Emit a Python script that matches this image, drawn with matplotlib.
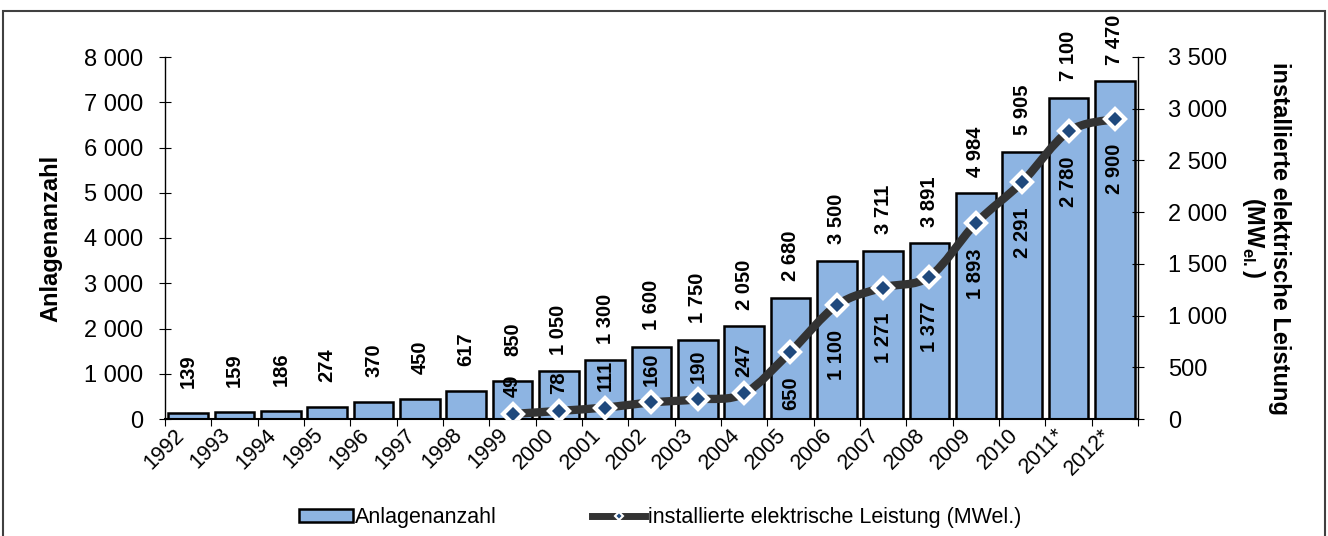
import matplotlib
matplotlib.use("Agg")
import matplotlib.pyplot as plt
from matplotlib.path import Path
from matplotlib.patches import PathPatch, Rectangle, Patch
from matplotlib.lines import Line2D

plt.rcParams['font.family'] = ['Liberation Sans', 'DejaVu Sans']
plt.rcParams['mathtext.fontset'] = 'custom'
plt.rcParams['mathtext.rm'] = 'Liberation Sans'
plt.rcParams['mathtext.bf'] = 'Liberation Sans:bold'

# data
years = ["1992", "1993", "1994", "1995", "1996", "1997", "1998", "1999", "2000",
         "2001", "2002", "2003", "2004", "2005", "2006", "2007", "2008", "2009",
         "2010", "2011*", "2012*"]
anlagen = [139, 159, 186, 274, 370, 450, 617, 850, 1050, 1300, 1600, 1750,
           2050, 2680, 3500, 3711, 3891, 4984, 5905, 7100, 7470]
leistung_years = ["1999", "2000", "2001", "2002", "2003", "2004", "2005", "2006",
                  "2007", "2008", "2009", "2010", "2011*", "2012*"]
leistung = [49, 78, 111, 160, 190, 247, 650, 1100, 1271, 1377, 1893, 2291, 2780, 2900]

bar_color = "#8DB4E2"
line_color = "#333333"
marker_color = "#1F497D"


def fmt(v):
    return f"{v:,}".replace(",", " ")


W, H = 1328, 536
fig = plt.figure(figsize=(W / 100, H / 100), dpi=100)
ax = fig.add_axes([165 / W, 1 - 419 / H, (1138 - 165) / W, (419 - 57) / H])
ax2 = ax.twinx()

x = list(range(len(years)))
ax.bar(x, anlagen, width=0.86, color=bar_color, edgecolor="black", linewidth=1.8, zorder=2)
ax.set_xlim(-0.5, len(years) - 0.5)
ax.set_ylim(0, 8000)
ax.set_yticks(range(0, 8001, 1000))
ax.set_yticklabels([fmt(v) for v in range(0, 8001, 1000)])

for i, v in zip(x, anlagen):
    ax.annotate(fmt(v), (i, v), xytext=(0, 30), textcoords="offset points",
                rotation=90, ha="center", va="center", fontsize=14.5, fontweight="bold")

ax.set_xticks(x)
ax.set_xticklabels(years, rotation=45, ha="right", fontsize=15.5)
ax.set_xticks([i - 0.5 for i in range(len(years) + 1)], minor=True)
ax.tick_params(axis="x", which="major", length=0, pad=4)
ax.tick_params(axis="x", which="minor", length=5, direction="out", width=0.8)
ax.tick_params(axis="y", direction="inout", length=9, labelsize=17, pad=11, width=0.8)

for s in ["top", "right"]:
    ax.spines[s].set_visible(False)
ax.spines["left"].set_linewidth(1)
ax.spines["bottom"].set_linewidth(1.5)

ax.set_ylabel("Anlagenanzahl", fontsize=17, fontweight="bold", labelpad=16)

# line on secondary axis (smoothed drawing through the points)
lx = [years.index(y) for y in leistung_years]
pts = list(zip(lx, leistung))
verts = [pts[0]]
codes = [Path.MOVETO]
for k in range(len(pts) - 1):
    p0 = pts[k - 1] if k > 0 else pts[k]
    p1 = pts[k]
    p2 = pts[k + 1]
    p3 = pts[k + 2] if k + 2 < len(pts) else pts[k + 1]
    c1 = (p1[0] + (p2[0] - p0[0]) / 6, p1[1] + (p2[1] - p0[1]) / 6)
    c2 = (p2[0] - (p3[0] - p1[0]) / 6, p2[1] - (p3[1] - p1[1]) / 6)
    verts += [c1, c2, p2]
    codes += [Path.CURVE4] * 3
ax2.add_patch(PathPatch(Path(verts, codes), facecolor="none", edgecolor=line_color,
                        linewidth=6, capstyle="round", zorder=3))
ax2.plot(lx, leistung, linestyle="none", marker="D", markersize=10,
         markerfacecolor=marker_color, markeredgecolor="white", markeredgewidth=3, zorder=4)

for i, v in zip(lx, leistung):
    if v < 300:
        ax2.annotate(fmt(v), (i, v), xytext=(0, 12), textcoords="offset points",
                     rotation=90, ha="center", va="bottom", fontsize=14.5, fontweight="bold")
    else:
        ax2.annotate(fmt(v), (i, v), xytext=(0, -18), textcoords="offset points",
                     rotation=90, ha="center", va="top", fontsize=14.5, fontweight="bold")

ax2.set_ylim(0, 3500)
ax2.set_yticks(range(0, 3501, 500))
ax2.set_yticklabels([fmt(v) for v in range(0, 3501, 500)])
ax2.tick_params(axis="y", direction="inout", length=9, labelsize=17, pad=17, width=0.8)
for s in ["top", "left", "bottom"]:
    ax2.spines[s].set_visible(False)
ax2.spines["right"].set_linewidth(1)
ax2.set_ylabel("installierte elektrische Leistung\n(MW$_{\\mathbf{el.}}$)", fontsize=17,
               fontweight="bold", rotation=270, labelpad=46, linespacing=1.05)

# legend
handles = [
    Patch(facecolor=bar_color, edgecolor="black", linewidth=1.8),
    Line2D([], [], color=line_color, linewidth=5, marker="D", markersize=4,
           markerfacecolor=marker_color, markeredgecolor="white", markeredgewidth=1.5),
]
fig.legend(handles, ["Anlagenanzahl", "installierte elektrische Leistung (MWel.)"],
           loc="center", bbox_to_anchor=(660 / W, 1 - 518 / H), ncol=2, frameon=False,
           fontsize=15.5, handlelength=2.5, handleheight=0.55, handletextpad=0.1,
           columnspacing=4.4)

# outer chart border
fig.patches.append(Rectangle((3 / W, -0.02), 1322 / W, (536 - 11) / H + 0.02,
                             transform=fig.transFigure, fill=False,
                             edgecolor="#404040", linewidth=1.5))

fig.savefig("out.png", dpi=100)
